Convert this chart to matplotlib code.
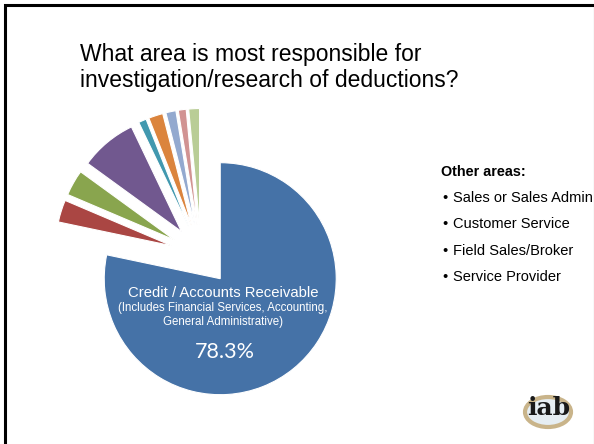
import matplotlib
matplotlib.use("Agg")
import matplotlib.pyplot as plt
from matplotlib.patches import Rectangle, Ellipse

# Responsibility shares for deduction research (percent)
areas = ["Credit / Accounts Receivable", "Area 2", "Area 3", "Area 4", "Area 5",
         "Area 6", "Area 7", "Area 8", "Area 9"]
shares = [78.3, 3.1, 3.6, 7.9, 1.1, 2.0, 1.4, 1.1, 1.5]
colors = ["#4572A7", "#AA4643", "#89A54E", "#71588F", "#4198AF",
          "#DB843D", "#93A9CF", "#D19392", "#B9CD96"]

title_lines = ["What area is most responsible for",
               "investigation/research of deductions?"]
other_heading = "Other areas:"
other_areas = ["Sales or Sales Admin", "Customer Service",
               "Field Sales/Broker", "Service Provider"]
main_label = ["Credit / Accounts Receivable",
              "(Includes Financial Services, Accounting,",
              "General Administrative)"]

W, H = 594, 444
fig = plt.figure(figsize=(W / 100, H / 100), dpi=100)
fig.patch.set_facecolor("white")


def fx(px):
    return px / W


def fy(py):
    return 1 - py / H


# Pie: unit radius, centred in an axes sized so the radius is ~116 px
cx, cy, R = 201, 255, 116
span = 1.5
ax = fig.add_axes([fx(cx - span * R), fy(cy + span * R),
                   2 * span * R / W, 2 * span * R / H])
ax.pie(shares, colors=colors, startangle=90, counterclock=False,
       explode=[0.263] * len(shares), radius=1.0,
       wedgeprops=dict(edgecolor="white", linewidth=0.8))
ax.set_xlim(-span, span)
ax.set_ylim(-span, span)
ax.set_aspect("equal")
ax.axis("off")

# Title
fig.text(fx(80), fy(61), title_lines[0], fontsize=16.5,
         family="Liberation Sans", ha="left", va="baseline", color="black")
fig.text(fx(80), fy(87), title_lines[1], fontsize=16.5,
         family="Liberation Sans", ha="left", va="baseline", color="black")

# Label inside the main slice
fig.text(fx(223), fy(293), main_label[0], fontsize=10.7, color="white",
         family="Liberation Sans", ha="center", va="center")
fig.text(fx(223), fy(308), main_label[1], fontsize=8.3, color="white",
         family="Liberation Sans", ha="center", va="center")
fig.text(fx(223), fy(322), main_label[2], fontsize=8.3, color="white",
         family="Liberation Sans", ha="center", va="center")
fig.text(fx(225), fy(352), f"{shares[0]:.1f}%", fontsize=15.5, color="white",
         family="Lato", ha="center", va="center")

# Other areas list
fig.text(fx(441), fy(172), other_heading, fontsize=10.4, fontweight="bold",
         family="Liberation Sans", ha="left", va="center")
for i, name in enumerate(other_areas):
    y = 197.5 + i * 26.6
    fig.text(fx(442), fy(y), "\u2022", fontsize=10.5, family="Liberation Sans",
             ha="left", va="center")
    fig.text(fx(453), fy(y), name, fontsize=10.5, family="Liberation Sans",
             ha="left", va="center")

# Logo
fig.add_artist(Ellipse((fx(548), fy(412)), 46 / W, 30 / H,
                       transform=fig.transFigure, facecolor="#E6EEF3",
                       edgecolor="#C9B48A", linewidth=3))
fig.text(fx(549), fy(408), "iab", fontsize=18, fontweight="bold",
         family="DejaVu Serif", ha="center", va="center", color="#1a1a1a")

# Slide frame
fig.add_artist(Rectangle((fx(5), fy(447)), (594.5 - 5) / W, (447 - 5) / H,
                         transform=fig.transFigure, fill=False,
                         edgecolor="black", linewidth=2.2))

fig.savefig("out.png", dpi=100)
